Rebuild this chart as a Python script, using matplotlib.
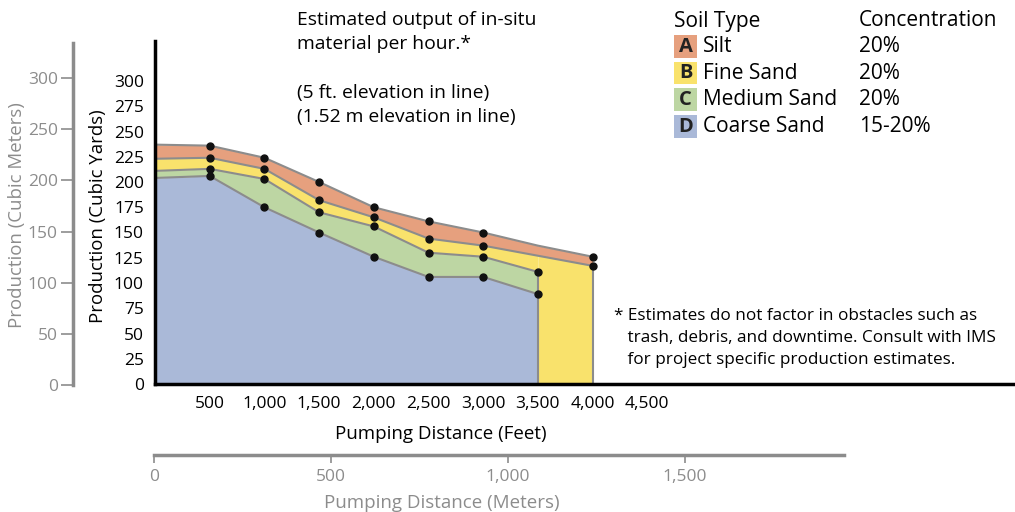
import matplotlib
matplotlib.use("Agg")
import matplotlib.pyplot as plt
from matplotlib.patches import Rectangle

plt.rcParams['font.family'] = ['Open Sans', 'DejaVu Sans']

# data (cubic yards, cumulative layer tops)
x_ft = [0, 500, 1000, 1500, 2000, 2500, 3000, 3500, 4000]
top_silt = [237, 236, 224, 200, 175, 161, 150, 137, 126]
top_fine = [223, 224, 213, 182, 165, 144, 137, 127, 117]
top_medium = [211, 213, 203, 170, 156, 130, 126, 111]   # stops at 3,500 ft
top_coarse = [204, 206, 175, 150, 126, 106, 106, 89]    # stops at 3,500 ft

yard_ticks = list(range(0, 301, 25))
meter_ticks = list(range(0, 301, 50))
feet_ticks = [500, 1000, 1500, 2000, 2500, 3000, 3500, 4000, 4500]
dist_m_ticks = [0, 500, 1000, 1500]

soil_letters = ['A', 'B', 'C', 'D']
soil_names = ['Silt', 'Fine Sand', 'Medium Sand', 'Coarse Sand']
soil_conc = ['20%', '20%', '20%', '15-20%']
soil_colors = ['#E6A07E', '#F9E26C', '#BDD6A3', '#AAB9D8']

W, H = 1015, 512
edge = '#8c8c8c'
gray_txt = '#8c8c8c'


def box(x0, y_top, x1, y_bot):
    # pixel box -> figure fraction [left, bottom, width, height]
    return [x0 / W, 1 - y_bot / H, (x1 - x0) / W, (y_bot - y_top) / H]


fig = plt.figure(figsize=(W / 100, H / 100), dpi=100)

# main chart (cubic yards vs feet)
ax = fig.add_axes(box(155, 41, 1015, 384))
ax.set_xlim(0, 860 / 0.1094)
ax.set_ylim(0, 343 / 1.01)

n = len(top_coarse)
ax.fill_between(x_ft[:n], 0, top_coarse, color=soil_colors[3], lw=0)
ax.fill_between(x_ft[:n], top_coarse, top_medium, color=soil_colors[2], lw=0)
ax.fill_between(x_ft[:n], top_medium, top_fine[:n], color=soil_colors[1], lw=0)
ax.fill_between(x_ft[n - 1:], 0, top_fine[n - 1:], color=soil_colors[1], lw=0)
ax.fill_between(x_ft, top_fine, top_silt, color=soil_colors[0], lw=0)

ax.plot(x_ft, top_silt, color=edge, lw=1.5)
ax.plot(x_ft, top_fine, color=edge, lw=1.5)
ax.plot(x_ft[:n], top_medium, color=edge, lw=1.5)
ax.plot(x_ft[:n], top_coarse, color=edge, lw=1.5)
ax.vlines(x_ft[n - 1], 0, top_medium[-1], color=edge, lw=1.5)
ax.vlines(x_ft[-1], 0, top_fine[-1], color=edge, lw=1.5)

# dots
for series in [top_silt, top_fine, top_medium, top_coarse]:
    ax.plot(x_ft[1:7], series[1:7], 'o', color='#111111', ms=5, zorder=5)
ax.plot([x_ft[7]] * 2, [top_medium[7], top_coarse[7]], 'o', color='#111111', ms=5, zorder=5)
ax.plot([x_ft[8]] * 2, [top_silt[8], top_fine[8]], 'o', color='#111111', ms=5, zorder=5)

for s in ['top', 'right']:
    ax.spines[s].set_visible(False)
ax.spines['left'].set_linewidth(2.5)
ax.spines['bottom'].set_linewidth(2.5)
ax.set_yticks(yard_ticks)
ax.set_xticks(feet_ticks)
ax.set_xticklabels([f"{v:,}" for v in feet_ticks])
ax.tick_params(axis='y', length=0, pad=8, labelsize=12.5)
ax.tick_params(axis='x', length=0, pad=9, labelsize=12.5)
fig.text(98 / W, 1 - 216 / H, 'Production (Cubic Yards)', rotation=90,
         ha='center', va='center', fontsize=13.4)

# left axis in cubic meters
axm = fig.add_axes(box(73, 43, 74, 385))
axm.set_ylim(0, 342 / 1.0233)
axm.set_xticks([])
for s in ['top', 'right', 'bottom']:
    axm.spines[s].set_visible(False)
axm.spines['left'].set_color(edge)
axm.spines['left'].set_linewidth(2.5)
axm.patch.set_visible(False)
axm.set_yticks(meter_ticks)
axm.tick_params(axis='y', length=9, width=1.2, color=edge, labelcolor=gray_txt,
                labelsize=12.5, pad=2)
fig.text(17 / W, 1 - 215 / H, 'Production (Cubic Meters)', rotation=90,
         ha='center', va='center', fontsize=13.4, color=gray_txt)

# bottom axis in meters
axd = fig.add_axes(box(154, 454, 844, 455))
axd.set_xlim(0, 690 / 0.354)
axd.set_yticks([])
for s in ['top', 'right', 'left']:
    axd.spines[s].set_visible(False)
axd.spines['bottom'].set_color(edge)
axd.spines['bottom'].set_linewidth(2.5)
axd.patch.set_visible(False)
axd.set_xticks(dist_m_ticks)
axd.set_xticklabels([f"{v:,}" for v in dist_m_ticks])
axd.tick_params(axis='x', length=6, width=1.2, color=edge, labelcolor=gray_txt,
                labelsize=12.5, pad=4)

fig.text(441 / W, 1 - 434 / H, 'Pumping Distance (Feet)', ha='center', va='center', fontsize=13.5)
fig.text(442 / W, 1 - 503 / H, 'Pumping Distance (Meters)', ha='center', va='center',
         fontsize=13.5, color=gray_txt)

# title note
fig.text(297 / W, 1 - 11 / H,
         'Estimated output of in-situ\nmaterial per hour.*\n\n(5 ft. elevation in line)\n(1.52 m elevation in line)',
         ha='left', va='top', fontsize=13.9, linespacing=1.45)

# legend
fig.text(674 / W, 1 - 21 / H, 'Soil Type', ha='left', va='center', fontsize=15)
fig.text(859 / W, 1 - 21 / H, 'Concentration', ha='left', va='center', fontsize=15)
for i in range(4):
    yt = 35 + i * 26.7
    fig.add_artist(Rectangle((674 / W, 1 - (yt + 22.5) / H), 23 / W, 22.5 / H,
                             transform=fig.transFigure, color=soil_colors[i], lw=0))
    yc = 1 - (yt + 11.5) / H
    fig.text(685.5 / W, yc, soil_letters[i], ha='center', va='center', fontsize=14.5,
             fontweight='bold', color='#222222')
    fig.text(703 / W, yc, soil_names[i], ha='left', va='center', fontsize=15)
    fig.text(859 / W, yc, soil_conc[i], ha='left', va='center', fontsize=15)

# footnote
fig.text(614 / W, 1 - 308 / H,
         '* Estimates do not factor in obstacles such as\n   trash, debris, and downtime. Consult with IMS\n   for project specific production estimates.',
         ha='left', va='top', fontsize=12.3, linespacing=1.5)

fig.savefig('out.png', dpi=100)
